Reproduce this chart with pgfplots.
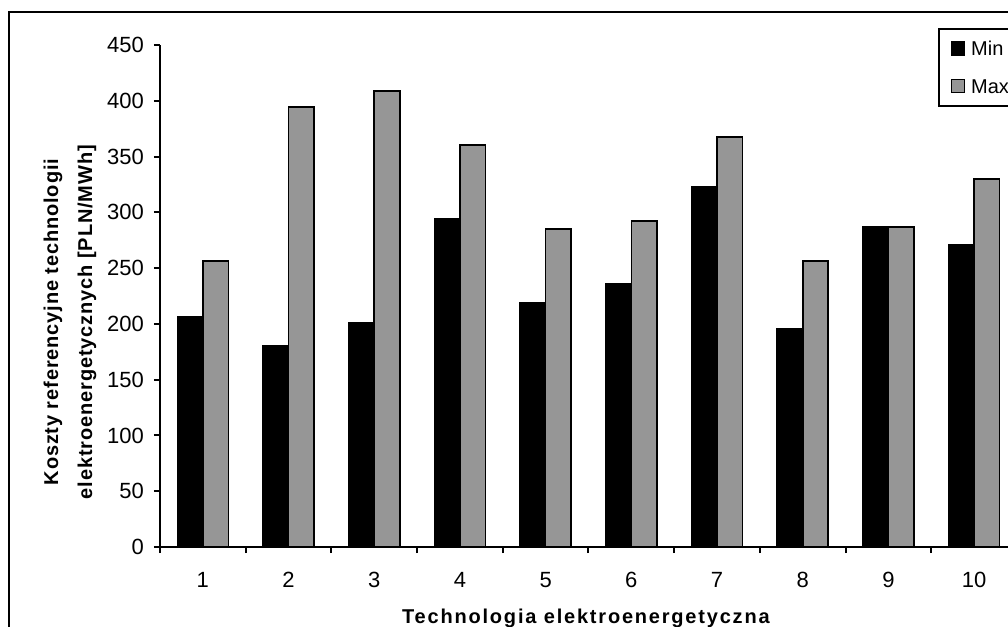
\documentclass[border=0pt]{standalone}
\usepackage{pgfplots}
\pgfplotsset{compat=1.18}
\usepackage{fontspec}
\setmainfont{Liberation Sans}
\newfontfamily\xlabfont[LetterSpace=9]{Liberation Sans}
\newfontfamily\ylabfont[LetterSpace=4.3]{Liberation Sans}
\definecolor{bargray}{RGB}{150,150,150}
\pgfplotsset{sqlegend/.style={legend image code/.code={\draw[##1, line width=0.8pt] (0pt,-3.25pt) rectangle (6.5pt,3.25pt);}}}
\begin{document}
\begin{tikzpicture}
\useasboundingbox (-80pt,-40pt) rectangle (424pt,273.5pt);
\clip (-80pt,-40pt) rectangle (424pt,273.5pt);
\begin{scope}[overlay]
\draw[line width=1pt] (-75.5pt,-60pt) -- (-75.5pt,267.5pt) -- (450pt,267.5pt);
\begin{axis}[
 scale only axis, width=428.5pt, height=251pt,
 xmin=0.5, xmax=10.5, ymin=0, ymax=450,
 axis lines=left, axis line style={-, line width=1pt},
 ybar=0pt, bar width=12.75pt,
 xtick={0.5,1.5,...,10.5}, xticklabels={1,2,3,4,5,6,7,8,9,10}, x tick label as interval,
 ytick={0,50,...,450},
 tick align=outside, major tick length=3pt, tick style={line width=1pt, black},
 /pgf/number format/assume math mode=true,
 tick label style={font=\fontsize{11}{13}\selectfont},
 xticklabel style={yshift=-6pt},
 yticklabel style={xshift=-1.5pt},
 xlabel={Technologia elektroenergetyczna},
 xlabel style={font=\xlabfont\bfseries\fontsize{10}{12}\selectfont, at={(axis description cs:0.497,-0.1415)}, anchor=center},
 ylabel={Koszty referencyjne technologii\\elektroenergetycznych [PLN/MWh]},
 ylabel style={align=center, font=\ylabfont\bfseries\fontsize{10}{17}\selectfont, at={(axis description cs:-0.105,0.448)}, anchor=center},
 legend style={at={(axis description cs:0.9078,1.0339)}, anchor=north west, draw=black, line width=1pt,
   font=\fontsize{10}{12}\selectfont, legend cell align=left, row sep=11.3pt,
   inner xsep=5.8pt, inner ysep=6.2pt,
   nodes={inner xsep=3pt, inner ysep=0pt, text height=7.3pt, text depth=0pt}},
]
\addplot[fill=black, draw=black, line width=0.8pt, sqlegend] coordinates {
(1,206.8) (2,180.2) (3,201) (4,294.3) (5,219) (6,235.5) (7,323.3) (8,195.7) (9,286.8) (10,271)};
\addplot[fill=bargray, draw=black, line width=0.8pt, sqlegend] coordinates {
(1,256.4) (2,394.4) (3,408.7) (4,360.3) (5,284.8) (6,292.2) (7,367.5) (8,256.4) (9,286.8) (10,329.9)};
\legend{Min,Max}
\end{axis}
\end{scope}
\end{tikzpicture}
\end{document}
